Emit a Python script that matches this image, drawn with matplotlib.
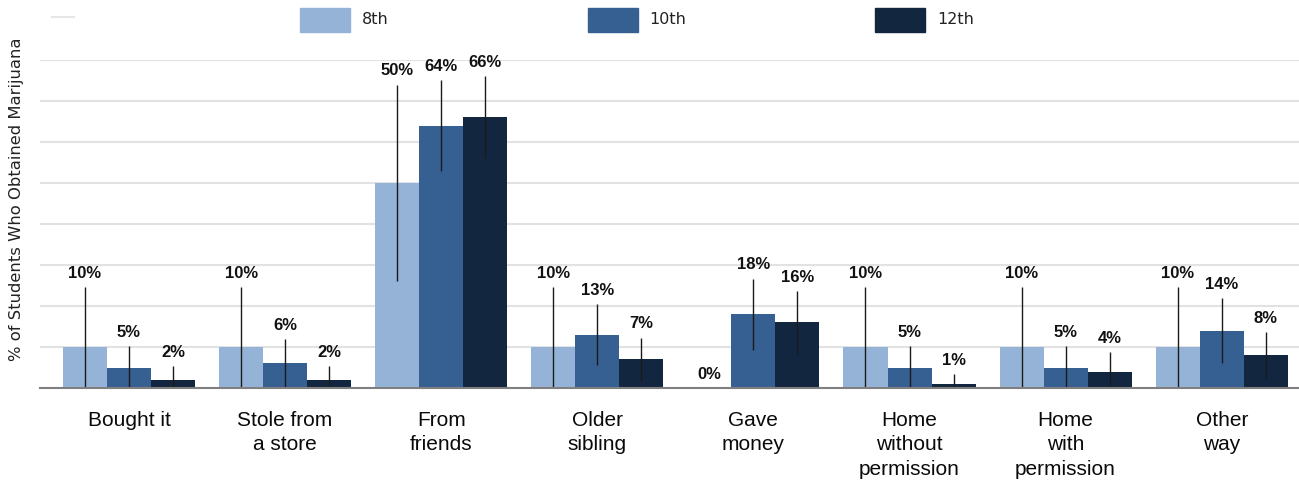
import matplotlib
matplotlib.use('Agg')
import matplotlib.pyplot as plt
from matplotlib.patches import Rectangle
from matplotlib.lines import Line2D
import numpy as np

categories = ["Bought it", "Stole from\na store", "From\nfriends", "Older\nsibling",
              "Gave\nmoney", "Home\nwithout\npermission", "Home\nwith\npermission", "Other\nway"]
series = ["8th", "10th", "12th"]
vals_8th = [10, 10, 50, 10, 0, 10, 10, 10]
vals_10th = [5, 6, 64, 13, 18, 5, 5, 14]
vals_12th = [2, 2, 66, 7, 16, 1, 4, 8]
err_8th = [14.6, 14.6, 24, 14.6, 0, 14.6, 14.6, 14.6]
err_10th = [5.2, 6.0, 11, 7.5, 8.7, 5.2, 5.2, 8.0]
err_12th = [3.4, 3.4, 10, 5.3, 7.7, 2.4, 4.8, 5.6]
colors = ["#95b3d7", "#366092", "#13263f"]

W, H = 1299, 483
fig = plt.figure(figsize=(W / 100, H / 100), dpi=100)
ax = fig.add_axes([40 / W, 95 / H, 1 - 40 / W, 328 / H])

x = np.arange(len(categories))
width = 0.282
all_vals = [vals_8th, vals_10th, vals_12th]
all_errs = [err_8th, err_10th, err_12th]
for i, (vals, errs, col) in enumerate(zip(all_vals, all_errs, colors)):
    pos = x + (i - 1) * width
    v = np.array(vals, dtype=float)
    e = np.array(errs, dtype=float)
    lower = np.minimum(e, v)
    ax.bar(pos, v, width, color=col, zorder=2)
    ax.errorbar(pos, v, yerr=[lower, e], fmt='none', ecolor='#1a1a1a',
                elinewidth=1.0, capsize=0, zorder=3)
    for px, vv, ee in zip(pos, v, e):
        ax.annotate(f"{vv:.0f}%", (px, vv + ee), xytext=(0, 4.5), textcoords='offset points',
                    ha='center', va='bottom', fontsize=12, fontweight='bold',
                    family='Liberation Sans', color='#111111', annotation_clip=False)

ax.set_ylim(0, 80)
ax.set_xlim(-0.570, 7.495)
ax.set_yticks(np.arange(10, 81, 10))
ax.yaxis.grid(True, color='#e2e2e2', linewidth=1.5, zorder=0)
ax.set_axisbelow(True)
ax.tick_params(axis='y', left=False, labelleft=False)
ax.tick_params(axis='x', bottom=False, pad=13)
ax.set_xticks(x)
ax.set_xticklabels(categories, fontsize=15, family='Liberation Sans', color='#0a0a0a',
                   linespacing=1.37, va='top')
for s in ['top', 'right', 'left']:
    ax.spines[s].set_visible(False)
ax.spines['bottom'].set_color('#7f7f7f')
ax.spines['bottom'].set_linewidth(1.5)
ax.spines['bottom'].set_zorder(4)

fig.text(17 / W, 1 - 199 / H, "% of Students Who Obtained Marijuana", rotation=90,
         ha='center', va='center', fontsize=11.8, family='DejaVu Sans', color='#222222')

# legend
fig.add_artist(Line2D([52 / W, 74 / W], [1 - 17 / H, 1 - 17 / H], color='#e6e6e6', lw=1.5))
for i, (name, col) in enumerate(zip(series, colors)):
    x0 = 300 + 287.5 * i
    fig.add_artist(Rectangle((x0 / W, 1 - 32 / H), 50 / W, 24 / H, color=col,
                             transform=fig.transFigure))
    fig.text((x0 + 62) / W, 1 - 20 / H, name, ha='left', va='center', fontsize=11.5,
             family='DejaVu Sans', color='#222222')

fig.savefig('out.png', dpi=100)
